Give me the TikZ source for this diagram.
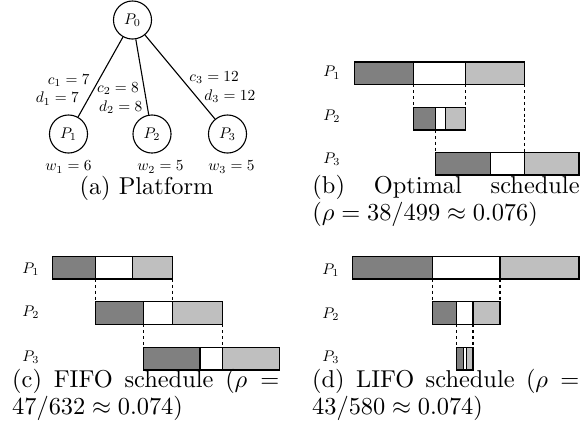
\RequirePackage{fix-cm}
\documentclass[tikz,border=0pt]{standalone}
\newcommand\tinymath[1]{\scalebox{0.63}{$#1$}}
\begin{document}
\begin{tikzpicture}[x=0.41pt,y=-0.41pt,
  proc/.style={circle,draw,line width=0.45pt,minimum size=15.6pt,inner sep=0pt,font=\fontsize{10}{12}\selectfont},
  link/.style={line width=0.45pt},
  lab/.style={font=\fontsize{10}{12}\selectfont,inner sep=0pt},
  capbox/.style={font=\fontsize{10}{11}\selectfont,inner sep=0pt,text width=109.5pt,align=justify,anchor=base west},
  bar/.style={draw,line width=0.45pt},
  comm/.style={bar,fill=black!50},
  comp/.style={bar,fill=white},
  ret/.style={bar,fill=black!25},
  guide/.style={line width=0.45pt,dash pattern=on 1.2pt off 1.2pt}
]
\useasboundingbox (0,0) rectangle (581,428);

% ---------- (a) platform ----------
\node[proc] (p0) at (132.5,20) {\tinymath{P_0}};
\node[proc] (p1) at (68.5,134) {\tinymath{P_1}};
\node[proc] (p2) at (152,134) {\tinymath{P_2}};
\node[proc] (p3) at (227.5,134) {\tinymath{P_3}};
\draw[link] (p0) -- (p1);
\draw[link] (p0) -- (p2);
\draw[link] (p0) -- (p3);
\node[lab,anchor=base east] (c1) at (90,84) {\tinymath{c_1=7}};
\node[lab,anchor=base east] (d1) at (79.3,102.7) {\tinymath{d_1=7}};
\node[lab,anchor=base east] (c2) at (139.3,92.5) {\tinymath{c_2=8}};
\node[lab,anchor=base east] (d2) at (142.7,111) {\tinymath{d_2=8}};
\node[lab,anchor=base west] (c3) at (189,81.5) {\tinymath{c_3=12}};
\node[lab,anchor=base west] (d3) at (204,100.3) {\tinymath{d_3=12}};
\node[lab,anchor=base west] (w1) at (45,170.7) {\tinymath{w_1=6}};
\node[lab,anchor=base west] (w2) at (137,170.7) {\tinymath{w_2=5}};
\node[lab,anchor=base west] (w3) at (208,170.7) {\tinymath{w_3=5}};
\node[font=\fontsize{10}{11}\selectfont,inner sep=0pt,anchor=base] (capa) at (146.5,194.5) {(a) Platform};

% ---------- (b) optimal schedule ----------
\node[lab,anchor=base west] (b1) at (323,76.7) {\tinymath{P_1}};
\node[lab,anchor=base west] (b2) at (323,120) {\tinymath{P_2}};
\node[lab,anchor=base west] (b3) at (323,163.3) {\tinymath{P_3}};
\draw[guide] (413.3,84.3) -- (413.3,107.3);
\draw[guide] (465.7,84.3) -- (465.7,107.3);
\draw[guide] (524.3,84.3) -- (524.3,152.7);
\draw[guide] (435.8,130) -- (435.8,152.7);
\filldraw[comm] (354.3,62) rectangle (413.3,84.3);
\filldraw[comp] (413.3,62) rectangle (465.7,84.3);
\filldraw[ret]  (465.7,62) rectangle (524.3,84.3);
\filldraw[comm] (413.3,107.3) rectangle (435.8,130);
\filldraw[comp] (435.8,107.3) rectangle (445.3,130);
\filldraw[ret]  (445.3,107.3) rectangle (465.7,130);
\filldraw[comm] (435.8,152.7) rectangle (490.3,175);
\filldraw[comp] (490.3,152.7) rectangle (524.3,175);
\filldraw[ret]  (524.3,152.7) rectangle (579,175);
\node[capbox] (capb) at (312,193.3) {(b) Optimal schedule\linebreak $(\rho = 38/499 \approx 0.076)$};

% ---------- (c) FIFO schedule ----------
\node[lab,anchor=base west] (f1) at (22,273.5) {\tinymath{P_1}};
\node[lab,anchor=base west] (f2) at (22,316.5) {\tinymath{P_2}};
\node[lab,anchor=base west] (f3) at (22,361) {\tinymath{P_3}};
\draw[guide] (95.7,279) -- (95.7,301.7);
\draw[guide] (172.7,279) -- (172.7,301.7);
\draw[guide] (143.3,324.3) -- (143.3,347.3);
\draw[guide] (222.7,324.3) -- (222.7,347.3);
\filldraw[comm] (52.3,256.5) rectangle (95.7,279);
\filldraw[comp] (95.7,256.5) rectangle (132.3,279);
\filldraw[ret]  (132.3,256.5) rectangle (172.7,279);
\filldraw[comm] (95.7,301.7) rectangle (143.3,324.3);
\filldraw[comp] (143.3,301.7) rectangle (172.7,324.3);
\filldraw[ret]  (172.7,301.7) rectangle (222.7,324.3);
\filldraw[comm] (143.3,347.3) rectangle (200,370);
\filldraw[comp] (200,347.3) rectangle (222.7,370);
\filldraw[ret]  (222.7,347.3) rectangle (279.3,370);
\node[capbox] (capc) at (11.7,387.3) {(c) FIFO schedule $(\rho =$\linebreak$47/632 \approx 0.074)$};

% ---------- (d) LIFO schedule ----------
\node[lab,anchor=base west] (l1) at (322,274.5) {\tinymath{P_1}};
\node[lab,anchor=base west] (l2) at (322,318) {\tinymath{P_2}};
\node[lab,anchor=base west] (l3) at (322,361.5) {\tinymath{P_3}};
\draw[guide] (432.3,279) -- (432.3,301.7);
\draw[guide] (500,279) -- (500,301.7);
\draw[guide] (456.7,324.3) -- (456.7,347.3);
\draw[guide] (473,324.3) -- (473,347.3);
\filldraw[comm] (352.7,256.5) rectangle (432.3,279);
\filldraw[comp] (432.3,256.5) rectangle (500,279);
\filldraw[ret]  (500,256.5) rectangle (579,279);
\filldraw[comm] (432.3,301.7) rectangle (456.7,324.3);
\filldraw[comp] (456.7,301.7) rectangle (473,324.3);
\filldraw[ret]  (473,301.7) rectangle (500,324.3);
\filldraw[comm] (456.7,347.3) rectangle (463.5,370);
\filldraw[comp] (463.5,347.3) rectangle (466.3,370);
\filldraw[ret]  (466.3,347.3) rectangle (473,370);
\node[capbox] (capd) at (311.7,387.3) {(d) LIFO schedule $(\rho =$\linebreak$43/580 \approx 0.074)$};
\end{tikzpicture}
\end{document}
